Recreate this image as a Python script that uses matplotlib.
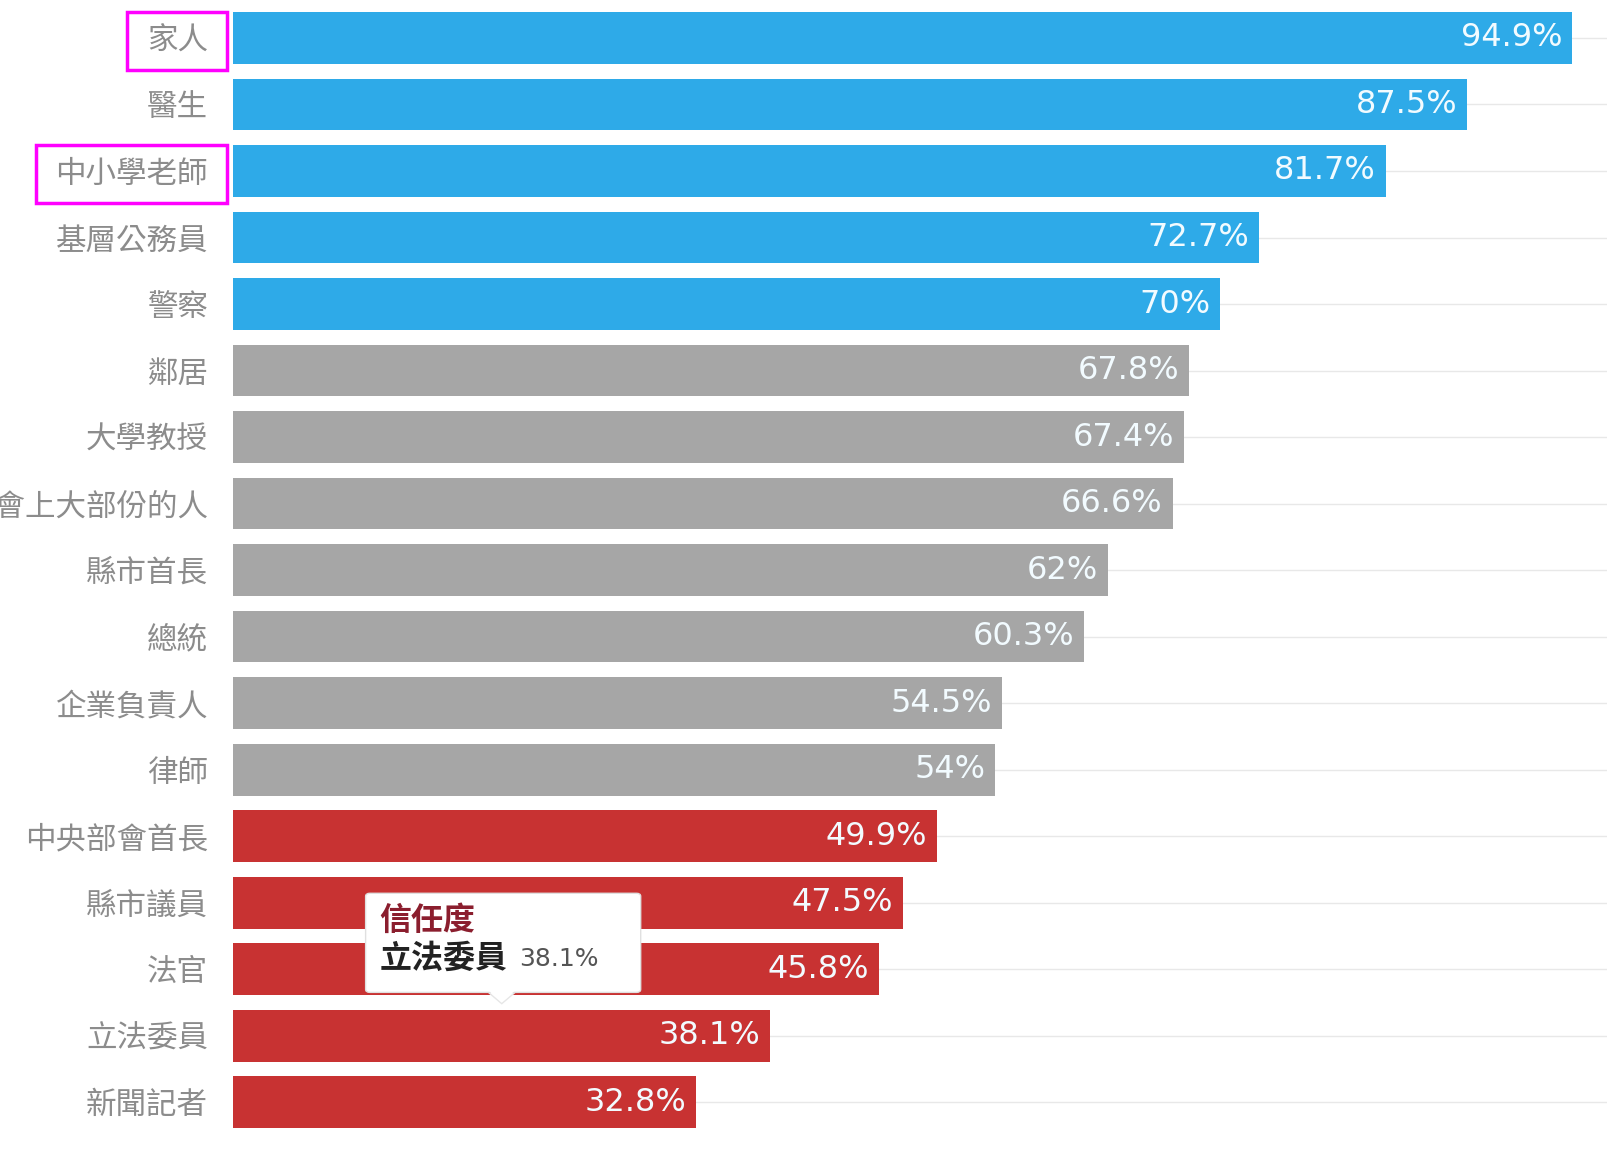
import matplotlib.pyplot as plt
from matplotlib.patches import FancyBboxPatch, Polygon, Rectangle
import numpy as np

plt.rcParams['font.family'] = ['Noto Sans CJK TC', 'DejaVu Sans']

categories = ['家人', '醫生', '中小學老師', '基層公務員', '警察', '鄰居', '大學教授',
              '社會上大部份的人', '縣市首長', '總統', '企業負責人', '律師',
              '中央部會首長', '縣市議員', '法官', '立法委員', '新聞記者']
values = [94.9, 87.5, 81.7, 72.7, 70, 67.8, 67.4, 66.6, 62, 60.3, 54.5, 54,
          49.9, 47.5, 45.8, 38.1, 32.8]
labels = ['94.9%', '87.5%', '81.7%', '72.7%', '70%', '67.8%', '67.4%', '66.6%',
          '62%', '60.3%', '54.5%', '54%', '49.9%', '47.5%', '45.8%', '38.1%', '32.8%']
groups = ['high'] * 5 + ['mid'] * 7 + ['low'] * 5
highlighted = ['家人', '中小學老師']
tooltip_name = '立法委員'

palette = {'high': '#2eaae8', 'mid': '#a6a6a6', 'low': '#c83232'}

fig = plt.figure(figsize=(16.07, 11.54), dpi=100)
ax = fig.add_axes([0.145, 0, 0.855, 1])

y = np.arange(len(categories))
ax.barh(y, values, height=0.78, color=[palette[g] for g in groups], zorder=2)

for yi, v, lab in zip(y, values, labels):
    ax.annotate(lab, (v, yi), xytext=(-7, 0), textcoords='offset points',
                ha='right', va='center', fontsize=23, color='#f2fbff',
                family='DejaVu Sans', zorder=3)

ax.set_xlim(0, 97.4)
ax.set_ylim(16.78, -0.571)
ax.set_yticks(y)
ax.set_yticklabels(categories, fontsize=22, color='#8c8c8c')
ax.tick_params(axis='y', length=0, pad=18)
ax.set_xticks([])
ax.grid(axis='y', color='#e8e8e8', lw=1, zorder=0)
for s in ax.spines.values():
    s.set_visible(False)

# pink highlight boxes around some labels
fig.canvas.draw()
renderer = fig.canvas.get_renderer()
for tl in ax.get_yticklabels():
    if tl.get_text() in highlighted:
        bb = tl.get_window_extent(renderer)
        x0 = bb.x0 - 20
        x1 = 227
        yc = (bb.y0 + bb.y1) / 2
        r = Rectangle((x0 / fig.bbox.width, (yc - 29) / fig.bbox.height),
                      (x1 - x0) / fig.bbox.width, 58 / fig.bbox.height,
                      transform=fig.transFigure, fill=False,
                      edgecolor='#ff00ff', lw=2.5, zorder=5)
        fig.add_artist(r)

# tooltip for 立法委員
ti = categories.index(tooltip_name)
tv = values[ti]
tip_x = tv / 2
ax.add_patch(Polygon([[tip_x - 1.0, ti - 0.66], [tip_x + 1.0, ti - 0.66],
                      [tip_x, ti - 0.48]], closed=True, facecolor='white',
                     edgecolor='#e6e6e6', lw=1, zorder=6))
box = FancyBboxPatch((9.4, ti - 2.14), 19.5, 1.49,
                     boxstyle='round,pad=0,rounding_size=0.3',
                     facecolor='white', edgecolor='#e0e0e0', lw=1, zorder=6,
                     mutation_aspect=0.15)
ax.add_patch(box)
ax.add_patch(Polygon([[tip_x - 0.95, ti - 0.68], [tip_x + 0.95, ti - 0.68],
                      [tip_x, ti - 0.5]], closed=True, facecolor='white',
                     edgecolor='none', zorder=7))
ax.text(10.4, ti - 1.73, '信任度', fontsize=23, fontweight='bold',
        color='#8b1e2e', va='center', zorder=8)
t = ax.text(10.4, ti - 1.15, tooltip_name, fontsize=23, fontweight='bold',
            color='#222222', va='center', zorder=8)
ax.annotate(labels[ti], xy=(1, 0.5), xycoords=t, xytext=(8, 0),
            textcoords='offset points', fontsize=18, color='#555555',
            family='DejaVu Sans', va='center', zorder=8)

fig.savefig('out.png', dpi=100)
